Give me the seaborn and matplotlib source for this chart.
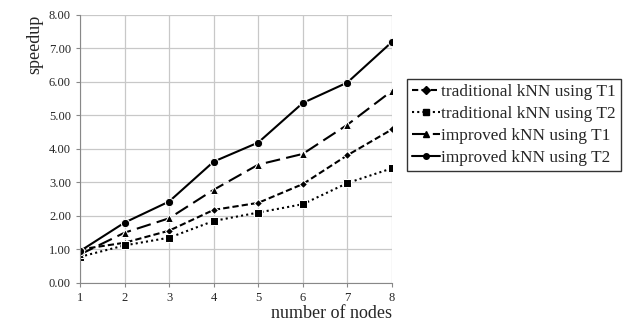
import numpy as np
import pandas as pd
import matplotlib
matplotlib.use("Agg")
import matplotlib.pyplot as plt
import seaborn as sb

# values
nodes = [1, 2, 3, 4, 5, 6, 7, 8]
trad_t1 = [1.00, 1.20, 1.56, 2.18, 2.39, 2.95, 3.81, 4.58]
trad_t2 = [0.78, 1.12, 1.35, 1.85, 2.10, 2.35, 2.98, 3.42]
impr_t1 = [0.85, 1.50, 1.93, 2.78, 3.53, 3.85, 4.72, 5.73]
impr_t2 = [0.95, 1.80, 2.43, 3.62, 4.19, 5.37, 5.98, 7.19]
names = ['traditional kNN using T1', 'traditional kNN using T2',
         'improved kNN using T1', 'improved kNN using T2']

df = pd.DataFrame({'nodes': nodes * 4,
                   'speedup': trad_t1 + trad_t2 + impr_t1 + impr_t2,
                   'method': sum([[n] * len(nodes) for n in names], [])})

sb.set_style('white')
plt.rcParams['font.family'] = ['Liberation Serif', 'DejaVu Serif']

fig = plt.figure(figsize=(6.25, 3.23), dpi=100)
ax = fig.add_axes([0.128, 0.124, 0.499, 0.830])

markers = {names[0]: 'D', names[1]: 's', names[2]: '^', names[3]: 'o'}
dashes = {names[0]: (3, 1.5), names[1]: (1, 1.5), names[2]: (7, 3), names[3]: ''}

sb.lineplot(data=df, x='nodes', y='speedup', hue='method', style='method',
            palette=['black'] * 4, markers=markers, dashes=dashes,
            linewidth=1.5, markersize=6, ax=ax, legend=False)
# smaller diamonds for the first series
ax.lines[0].set_markersize(4)

ax.set_xlim(1, 8)
ax.set_ylim(0, 8)
ax.set_xticks(nodes)
ax.set_yticks(np.arange(0, 9, 1))
ax.set_yticklabels([f'{v:.2f}' for v in np.arange(0, 9, 1)])
ax.grid(True, color='#c8c8c8', linewidth=0.9)
for s in ['top', 'right']:
    ax.spines[s].set_visible(False)
ax.spines['left'].set_color('#888888')
ax.spines['bottom'].set_color('#888888')
ax.tick_params(axis='both', labelsize=9, length=3, direction='out', color='#888888')
ax.tick_params(axis='both', which='both', left=True, bottom=True)
ax.set_xlabel('number of nodes', fontsize=13, loc='right', labelpad=1)
ax.set_ylabel('speedup', fontsize=13, loc='top')

handles = []
for n in names:
    h = plt.Line2D([], [], color='black', marker=markers[n], markersize=4, linewidth=1.5)
    if dashes[n]:
        h.set_dashes(dashes[n])
    handles.append(h)
leg = fig.legend(handles, names, loc='upper left', bbox_to_anchor=(0.651, 0.755),
                 fontsize=12.4, frameon=True, fancybox=False, edgecolor='black',
                 handlelength=1.6, handletextpad=0.1, borderpad=0.3, labelspacing=0.33,
                 borderaxespad=0)
leg.get_frame().set_linewidth(1.0)

fig.savefig('out.png', dpi=100)
